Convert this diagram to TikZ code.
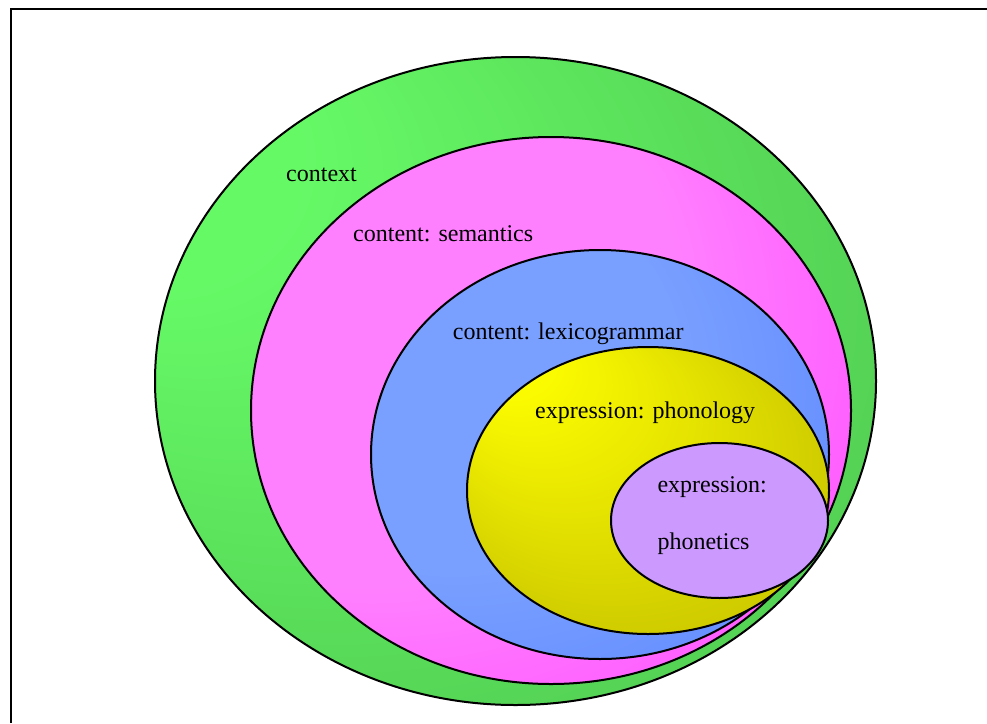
\documentclass[tikz,border=0pt]{standalone}
\usepackage{fontspec}
\setmainfont{Liberation Serif}
\definecolor{gLight}{RGB}{102,249,102}
\definecolor{gDark}{RGB}{76,192,76}
\definecolor{mLight}{RGB}{255,128,255}
\definecolor{mDark}{RGB}{255,32,255}
\definecolor{bLight}{RGB}{122,160,255}
\definecolor{bDark}{RGB}{76,120,255}
\definecolor{yLight}{RGB}{255,255,0}
\definecolor{yDark}{RGB}{200,196,0}
\definecolor{pFill}{RGB}{204,153,255}
\pgfdeclareradialshading{gshade}{\pgfpoint{-32bp}{22bp}}{color(0bp)=(gLight); color(10bp)=(gLight); color(46bp)=(gDark)}
\pgfdeclareradialshading{mshade}{\pgfpoint{-28bp}{18bp}}{color(0bp)=(mLight); color(26bp)=(mLight); color(58bp)=(mDark)}
\pgfdeclareradialshading{bshade}{\pgfpoint{-28bp}{18bp}}{color(0bp)=(bLight); color(24bp)=(bLight); color(58bp)=(bDark)}
\pgfdeclareradialshading{yshade}{\pgfpoint{-24bp}{28bp}}{color(0bp)=(yLight); color(4bp)=(yLight); color(32bp)=(yDark)}
\begin{document}
\begin{tikzpicture}[x=1pt,y=-1pt,
  ring/.style={draw=black, line width=2pt},
  lbl/.style={anchor=base west, inner sep=0pt, font=\fontsize{24}{28}\selectfont}]
\useasboundingbox (0,0) rectangle (987,723);
\draw[line width=2.4pt] (11,723) -- (11,9) -- (987,9);
\path[ring, shading=gshade] (515.5,381) ellipse [x radius=360.5pt, y radius=324pt];
\path[ring, shading=mshade] (551,410.5) ellipse [x radius=300pt, y radius=273.5pt];
\path[ring, shading=bshade] (600,454.5) ellipse [x radius=229pt, y radius=204.5pt];
\path[ring, shading=yshade] (648,490.5) ellipse [x radius=181pt, y radius=143.5pt];
\path[ring, fill=pFill] (719.5,520.5) ellipse [x radius=108.5pt, y radius=77.5pt];
\node[lbl] (ctx) at (286,181) {context};
\node[lbl] (sem) at (353,241) {content: semantics};
\node[lbl] (lex) at (452.7,339.3) {content: lexicogrammar};
\node[lbl] (phon) at (535,418.3) {expression: phonology};
\node[lbl] (expr) at (657.3,492.3) {expression:};
\node[lbl] (phnt) at (657.3,549) {phonetics};
\end{tikzpicture}
\end{document}
